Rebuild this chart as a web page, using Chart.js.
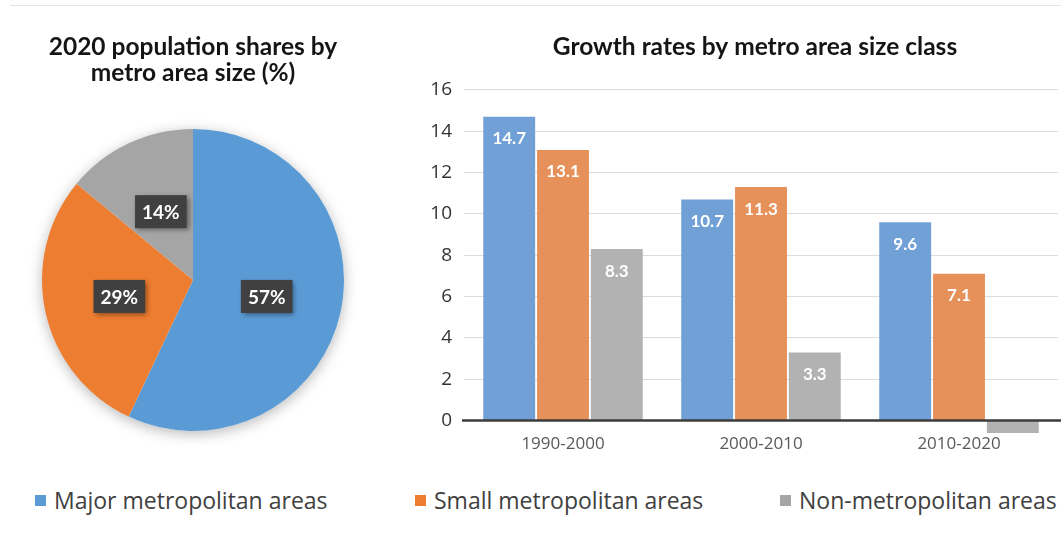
<!DOCTYPE html>
<html><head><meta charset="utf-8">
<script src="https://cdn.jsdelivr.net/npm/chart.js@4.4.0/dist/chart.umd.min.js"></script>
<style>
html,body{margin:0;padding:0;width:1061px;height:543px;overflow:hidden;background:#fff;position:relative;}
#topline{position:absolute;left:10px;top:5px;width:1051px;height:1px;background:#e4e4e4;}
#pieWrap{position:absolute;left:0;top:0;width:390px;height:470px;}
#barWrap{position:absolute;left:410px;top:0;width:690px;height:470px;}
.leg{position:absolute;top:485px;font-family:'Open Sans',sans-serif;font-size:23px;color:#404040;white-space:nowrap;line-height:30px;}
.leg .sw{position:absolute;left:0;top:10px;width:11px;height:11px;}
.leg .tx{position:absolute;left:19px;top:0;}
</style></head>
<body>
<div id="topline"></div>
<div id="pieWrap"><canvas id="pie"></canvas></div>
<div id="barWrap"><canvas id="bar"></canvas></div>
<div id="legend"></div>
<script>
// ---- data ----
const seriesNames = ['Major metropolitan areas','Small metropolitan areas','Non-metropolitan areas'];
const pieShares = [57, 29, 14];
const periods = ['1990-2000','2000-2010','2010-2020'];
const majorGrowth = [14.7, 10.7, 9.6];
const smallGrowth = [13.1, 11.3, 7.1];
const nonMetroGrowth = [8.3, 3.3, -0.6];
const yTickValues = [0, 2, 4, 6, 8, 10, 12, 14, 16];
const pieTitle = ['2020 population shares by','metro area size (%)'];
const barTitle = 'Growth rates by metro area size class';

// ---- styles ----
const pieColors = ['#5b9bd5','#ed7d31','#a5a5a5'];
const barColors = ['#70a0d6','#e6905a','#b2b2b2'];
const titleFont = {family:'Lato', size:24.5, weight:'bold', lineHeight:1.06};

// legend (HTML)
const legLefts = [35, 415, 780];
const legEl = document.getElementById('legend');
seriesNames.forEach((n,i)=>{
  const d = document.createElement('div'); d.className='leg'; d.style.left = legLefts[i]+'px';
  d.innerHTML = '<span class="sw" style="background:'+pieColors[i]+'"></span><span class="tx">'+n+'</span>';
  legEl.appendChild(d);
});

const pieShadow = {
  id:'pieShadow',
  beforeDatasetsDraw(chart){
    const a = chart.getDatasetMeta(0).data[0]; if(!a) return;
    const ctx = chart.ctx; ctx.save();
    ctx.shadowColor='rgba(0,0,0,0.28)'; ctx.shadowBlur=14; ctx.shadowOffsetY=3;
    ctx.beginPath(); ctx.arc(a.x,a.y,a.outerRadius,0,Math.PI*2); ctx.fillStyle='#fff'; ctx.fill();
    ctx.restore();
  }
};
const pieLabelPlugin = {
  id:'pieLabels',
  afterDatasetsDraw(chart){
    const ctx = chart.ctx; const meta = chart.getDatasetMeta(0);
    const vals = chart.data.datasets[0].data;
    meta.data.forEach((arc,i)=>{
      const p = arc.getProps(['x','y','startAngle','endAngle','outerRadius'],true);
      const mid = (p.startAngle+p.endAngle)/2, r = p.outerRadius*0.5;
      const cx = p.x + Math.cos(mid)*r, cy = p.y + Math.sin(mid)*r;
      const txt = vals[i]+'%';
      ctx.save();
      ctx.font = 'bold 19px Lato';
      const w = ctx.measureText(txt).width + 14, h = 33;
      ctx.shadowColor='rgba(0,0,0,0.45)'; ctx.shadowBlur=5; ctx.shadowOffsetX=2; ctx.shadowOffsetY=2;
      ctx.fillStyle='#404040'; ctx.fillRect(cx-w/2, cy-h/2, w, h);
      ctx.shadowColor='transparent';
      ctx.fillStyle='#fff'; ctx.textAlign='center'; ctx.textBaseline='middle';
      ctx.fillText(txt, cx, cy+1);
      ctx.restore();
    });
  }
};

new Chart(document.getElementById('pie'), {
  type:'pie',
  data:{labels:seriesNames, datasets:[{data:pieShares, backgroundColor:pieColors, borderWidth:0}]},
  options:{
    responsive:true, maintainAspectRatio:false, animation:false,
    layout:{padding:{left:42,right:46,top:0,bottom:39}},
    plugins:{
      legend:{display:false}, tooltip:{enabled:false},
      title:{display:true, text:pieTitle, color:'#151515', font:titleFont, padding:{top:34,bottom:43}}
    }
  },
  plugins:[pieShadow, pieLabelPlugin]
});

const barLabelPlugin = {
  id:'barLabels',
  afterDatasetsDraw(chart){
    const ctx = chart.ctx;
    // zero line over the bars
    const ys = chart.scales.y, area = chart.chartArea;
    const y0 = ys.getPixelForValue(0);
    ctx.save(); ctx.strokeStyle='#3c3c3c'; ctx.lineWidth=2.5;
    ctx.beginPath(); ctx.moveTo(area.left-2, y0); ctx.lineTo(area.right+4, y0); ctx.stroke(); ctx.restore();
    chart.data.datasets.forEach((ds,di)=>{
      chart.getDatasetMeta(di).data.forEach((bar,i)=>{
        const v = ds.data[i]; if(v<=0) return;
        ctx.save(); ctx.font='bold 17px Lato'; ctx.fillStyle='#fff';
        ctx.textAlign='center'; ctx.textBaseline='middle';
        ctx.fillText(v.toFixed(1), bar.x, bar.y+22);
        ctx.restore();
      });
    });
  }
};

new Chart(document.getElementById('bar'), {
  type:'bar',
  data:{labels:periods, datasets:[
    {label:seriesNames[0], data:majorGrowth, backgroundColor:barColors[0]},
    {label:seriesNames[1], data:smallGrowth, backgroundColor:barColors[1]},
    {label:seriesNames[2], data:nonMetroGrowth, backgroundColor:barColors[2]}
  ]},
  options:{
    responsive:true, maintainAspectRatio:false, animation:false,
    categoryPercentage:0.815, barPercentage:0.965,
    layout:{padding:{left:0,right:0,top:0,bottom:16}},
    plugins:{
      legend:{display:false}, tooltip:{enabled:false},
      title:{display:true, text:barTitle, color:'#151515', font:titleFont, padding:{top:34,bottom:30}}
    },
    scales:{
      x:{
        grid:{display:false, drawTicks:false}, border:{display:false},
        ticks:{color:'#595959', font:{family:'Open Sans', size:17}, padding:0},
        afterFit(s){ s.height = 20; }
      },
      y:{
        min:-0.65, max:16,
        border:{display:false},
        afterBuildTicks(s){ s.ticks = yTickValues.map(v=>({value:v})); },
        grid:{drawTicks:false,
          color:(c)=> c.tick && c.tick.value===0 ? 'rgba(0,0,0,0)' : '#dcdcdc',
          lineWidth:1},
        ticks:{autoSkip:false, padding:12, color:'#333',
          font:{family:'Open Sans', size:19}},
        afterFit(s){ s.width = 54; }
      },
      yRight:{
        position:'right', min:-0.65, max:16,
        grid:{display:false, drawTicks:false}, border:{display:false},
        ticks:{display:false},
        afterFit(s){ s.width = 42; }
      }
    }
  },
  plugins:[barLabelPlugin]
});
</script>
</body></html>
